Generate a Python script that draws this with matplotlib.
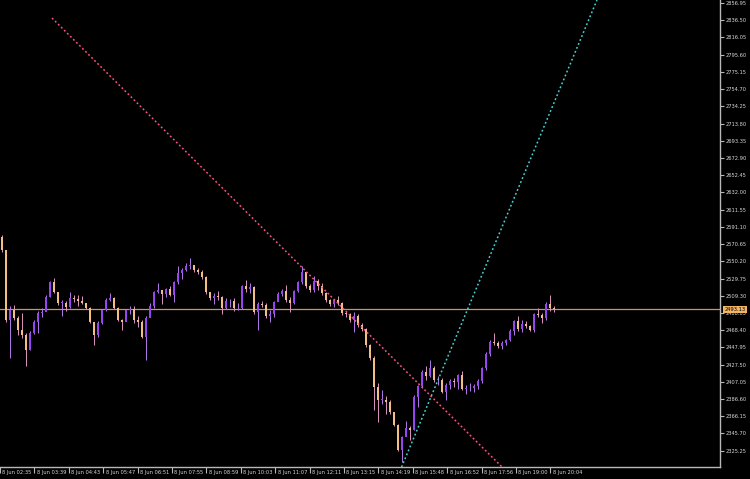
import matplotlib
matplotlib.use("Agg")
import matplotlib.pyplot as plt
import matplotlib.transforms as mtransforms
import numpy as np

# ---- data (prices) ----
first_open = 2579.0
closes = [2563.6, 2480.5, 2492.3, 2482.8, 2468.6, 2462.7, 2444.8, 2465.0, 2478.1, 2488.8,
          2490.0, 2507.8, 2525.6, 2513.7, 2500.7, 2500.7, 2495.9, 2506.6, 2505.4, 2503.0,
          2500.7, 2494.7, 2478.1, 2462.7, 2476.9, 2492.3, 2504.2, 2506.6, 2494.7, 2480.5,
          2478.1, 2492.3, 2493.5, 2480.5, 2478.1, 2460.3, 2482.8, 2497.1, 2513.7, 2516.1,
          2511.3, 2517.3, 2510.2, 2525.6, 2536.3, 2539.8, 2544.6, 2545.8, 2539.8, 2537.5,
          2531.5, 2513.7, 2506.6, 2509.0, 2507.8, 2494.7, 2503.0, 2503.0, 2494.7, 2494.7,
          2520.8, 2517.3, 2519.6, 2490.0, 2499.5, 2498.3, 2485.2, 2487.6, 2501.8, 2511.3,
          2514.9, 2504.2, 2500.7, 2514.9, 2525.6, 2537.5, 2520.8, 2516.1, 2526.8, 2520.8,
          2512.5, 2504.2, 2499.5, 2504.2, 2500.7, 2488.8, 2487.6, 2480.5, 2485.2, 2474.5,
          2469.8, 2450.8, 2435.3, 2400.9, 2385.5, 2385.5, 2383.1, 2371.2, 2355.8, 2326.1,
          2341.5, 2352.2, 2349.8, 2389.0, 2402.1, 2418.7, 2414.0, 2423.4, 2409.2, 2409.2,
          2395.0, 2403.3, 2408.0, 2406.8, 2415.2, 2398.5, 2399.7, 2399.7, 2402.1, 2408.0,
          2423.4, 2440.1, 2454.3, 2453.2, 2449.6, 2453.2, 2456.7, 2467.4, 2479.3, 2469.8,
          2475.7, 2473.3, 2468.6, 2487.6, 2486.4, 2482.8, 2499.5, 2494.7, 2493.13]
highs = [2581.4, 2560.0, 2497.1, 2498.3, 2485.2, 2488.8, 2465.0, 2467.4, 2480.5, 2491.2,
         2494.7, 2510.2, 2526.8, 2530.3, 2513.7, 2504.2, 2503.0, 2513.7, 2510.2, 2510.2,
         2509.0, 2500.7, 2495.9, 2478.1, 2479.3, 2493.5, 2506.6, 2512.5, 2507.8, 2495.9,
         2481.7, 2493.5, 2497.1, 2497.1, 2485.2, 2480.5, 2485.2, 2500.7, 2514.9, 2524.4,
         2516.1, 2518.5, 2520.8, 2526.8, 2544.6, 2542.2, 2548.2, 2554.1, 2545.8, 2542.2,
         2539.8, 2532.7, 2513.7, 2512.5, 2514.9, 2509.0, 2506.6, 2505.4, 2506.6, 2500.7,
         2522.0, 2528.0, 2524.4, 2520.8, 2501.8, 2503.0, 2500.7, 2492.3, 2503.0, 2513.7,
         2517.3, 2522.0, 2507.8, 2516.1, 2526.8, 2544.6, 2537.5, 2523.2, 2532.7, 2529.1,
         2524.4, 2513.7, 2505.4, 2505.4, 2509.0, 2501.8, 2491.2, 2488.8, 2490.0, 2487.6,
         2476.9, 2471.0, 2452.0, 2437.7, 2405.7, 2397.4, 2390.2, 2385.5, 2371.2, 2357.0,
         2342.7, 2360.5, 2354.6, 2391.4, 2403.3, 2421.1, 2425.8, 2433.0, 2425.8, 2414.0,
         2411.6, 2405.7, 2410.4, 2411.6, 2416.3, 2419.9, 2403.3, 2405.7, 2404.5, 2410.4,
         2424.6, 2442.5, 2456.7, 2465.0, 2455.5, 2455.5, 2457.9, 2469.8, 2480.5, 2485.2,
         2480.5, 2479.3, 2474.5, 2488.8, 2494.7, 2488.8, 2501.8, 2510.2, 2497.1]
lows = [2561.2, 2478.1, 2435.3, 2480.5, 2462.7, 2459.1, 2425.8, 2444.8, 2463.8, 2465.0,
        2484.0, 2492.3, 2507.8, 2512.5, 2498.3, 2485.2, 2491.2, 2494.7, 2501.8, 2497.1,
        2499.5, 2493.5, 2476.9, 2450.8, 2460.3, 2475.7, 2491.2, 2503.0, 2493.5, 2479.3,
        2468.6, 2482.8, 2487.6, 2476.9, 2472.2, 2459.1, 2433.0, 2488.8, 2494.7, 2512.5,
        2499.5, 2507.8, 2509.0, 2501.8, 2523.2, 2529.1, 2538.7, 2541.0, 2537.5, 2535.1,
        2529.1, 2511.3, 2504.2, 2499.5, 2504.2, 2487.6, 2493.5, 2495.9, 2491.2, 2492.3,
        2493.5, 2513.7, 2512.5, 2487.6, 2468.6, 2495.9, 2482.8, 2478.1, 2484.0, 2504.2,
        2509.0, 2501.8, 2490.0, 2499.5, 2513.7, 2523.2, 2518.5, 2513.7, 2513.7, 2516.1,
        2510.2, 2501.8, 2497.1, 2495.9, 2498.3, 2486.4, 2484.0, 2478.1, 2466.2, 2472.2,
        2467.4, 2448.4, 2433.0, 2373.6, 2359.3, 2380.7, 2368.9, 2368.9, 2354.6, 2324.9,
        2311.8, 2348.7, 2338.0, 2349.8, 2377.2, 2399.7, 2409.2, 2412.8, 2406.8, 2403.3,
        2393.8, 2385.5, 2398.5, 2400.9, 2398.5, 2397.4, 2392.6, 2396.2, 2395.0, 2398.5,
        2405.7, 2421.1, 2437.7, 2450.8, 2447.2, 2446.0, 2450.8, 2455.5, 2462.7, 2467.4,
        2466.2, 2471.0, 2467.4, 2466.2, 2484.0, 2476.9, 2480.5, 2491.2, 2490.0]

bid_price = 2493.13
bid_label = "2493.13"

# trend lines: (bar index, price) anchor pairs
red_trend_x = [12.5, 125.0]
red_trend_y = [2839.1, 2305.9]
cyan_trend_x = [99.9, 148.75]
cyan_trend_y = [2305.9, 2860.5]

price_ticks = [2325.25, 2345.70, 2366.15, 2386.60, 2407.05, 2427.50, 2447.95, 2468.40,
               2488.85, 2509.30, 2529.75, 2550.20, 2570.65, 2591.10, 2611.55, 2632.00,
               2652.45, 2672.90, 2693.35, 2713.80, 2734.25, 2754.70, 2775.15, 2795.60,
               2816.05, 2836.50, 2856.95]
time_tick_pos = [-0.5, 8.1, 16.7, 25.3, 33.9, 42.5, 51.1, 59.7, 68.3, 76.9, 85.5,
                 94.1, 102.7, 111.3, 119.9, 128.5, 137.1]
time_tick_labels = ["8 Jun 02:35", "8 Jun 03:39", "8 Jun 04:43", "8 Jun 05:47",
                    "8 Jun 06:51", "8 Jun 07:55", "8 Jun 08:59", "8 Jun 10:03",
                    "8 Jun 11:07", "8 Jun 12:11", "8 Jun 13:15", "8 Jun 14:19",
                    "8 Jun 15:48", "8 Jun 16:52", "8 Jun 17:56", "8 Jun 19:00",
                    "8 Jun 20:04"]

# ---- figure ----
W, H = 750, 479
fig = plt.figure(figsize=(W / 100, H / 100), dpi=100, facecolor="black")
ax = fig.add_axes([0, 12 / H, 720 / W, 467 / H])
ax.set_facecolor("black")
ax.set_xlim(-0.5, 179.5)
ax.set_ylim(2305.9, 2860.5)

closes_a = np.array(closes)
opens_a = np.concatenate([[first_open], closes_a[:-1]])
highs_a = np.array(highs)
lows_a = np.array(lows)
idx = np.arange(len(closes_a))
up = closes_a >= opens_a

bull_body, bull_wick = "#9844f2", "#b27ae8"
bear_body, bear_wick = "#f3bf80", "#dc96c0"

ax.vlines(idx[up], lows_a[up], highs_a[up], color=bull_wick, lw=0.7, zorder=2)
ax.vlines(idx[~up], lows_a[~up], highs_a[~up], color=bear_wick, lw=0.7, zorder=2)
body_lo = np.minimum(opens_a, closes_a)
body_h = np.maximum(np.abs(closes_a - opens_a), 0.6)
ax.bar(idx[up], body_h[up], bottom=body_lo[up], width=0.3, color=bull_body, lw=0, zorder=3)
ax.bar(idx[~up], body_h[~up], bottom=body_lo[~up], width=0.3, color=bear_body, lw=0, zorder=3)

# bid line
ax.axhline(bid_price, color="#cf9466", lw=0.9, zorder=1)

# trend lines
ax.plot(red_trend_x, red_trend_y, color="#ff5080", lw=1.1, ls=(0, (1.2, 1.6)), zorder=4)
ax.plot(cyan_trend_x, cyan_trend_y, color="#46d2d2", lw=1.1, ls=(0, (1.2, 1.6)), zorder=4)

# spines
for s in ["top", "left"]:
    ax.spines[s].set_visible(False)
for s in ["right", "bottom"]:
    ax.spines[s].set_color("#b8b8b8")
    ax.spines[s].set_linewidth(1.0)

# y axis on the right
ax.yaxis.tick_right()
ax.set_yticks(price_ticks)
ax.set_yticklabels([f"{v:.2f}" for v in price_ticks])
ax.tick_params(axis="y", direction="out", length=3, width=0.8, color="#b8b8b8",
               labelsize=3.7, labelcolor="#d8d8d8", pad=1)

# x axis ticks with labels right of tick
ax.set_xticks(time_tick_pos)
ax.set_xticklabels([])
ax.tick_params(axis="x", direction="out", length=4, width=0.8, color="#b8b8b8")
trans = mtransforms.offset_copy(ax.get_xaxis_transform(), fig=fig, x=2.5, y=-5.5, units="dots")
for p, lab in zip(time_tick_pos, time_tick_labels):
    ax.text(p, 0, lab, transform=trans, ha="left", va="center", fontsize=3.7,
            color="#d8d8d8", clip_on=False)

# bid price label box
ax.annotate(bid_label, xy=(1, bid_price), xycoords=("axes fraction", "data"),
            xytext=(3, 0), textcoords="offset points", ha="left", va="center",
            fontsize=3.7, color="black",
            bbox=dict(boxstyle="square,pad=0.25", fc="#f2b466", ec="none"),
            annotation_clip=False, zorder=10)

fig.savefig("out.png", dpi=100, facecolor="black")
